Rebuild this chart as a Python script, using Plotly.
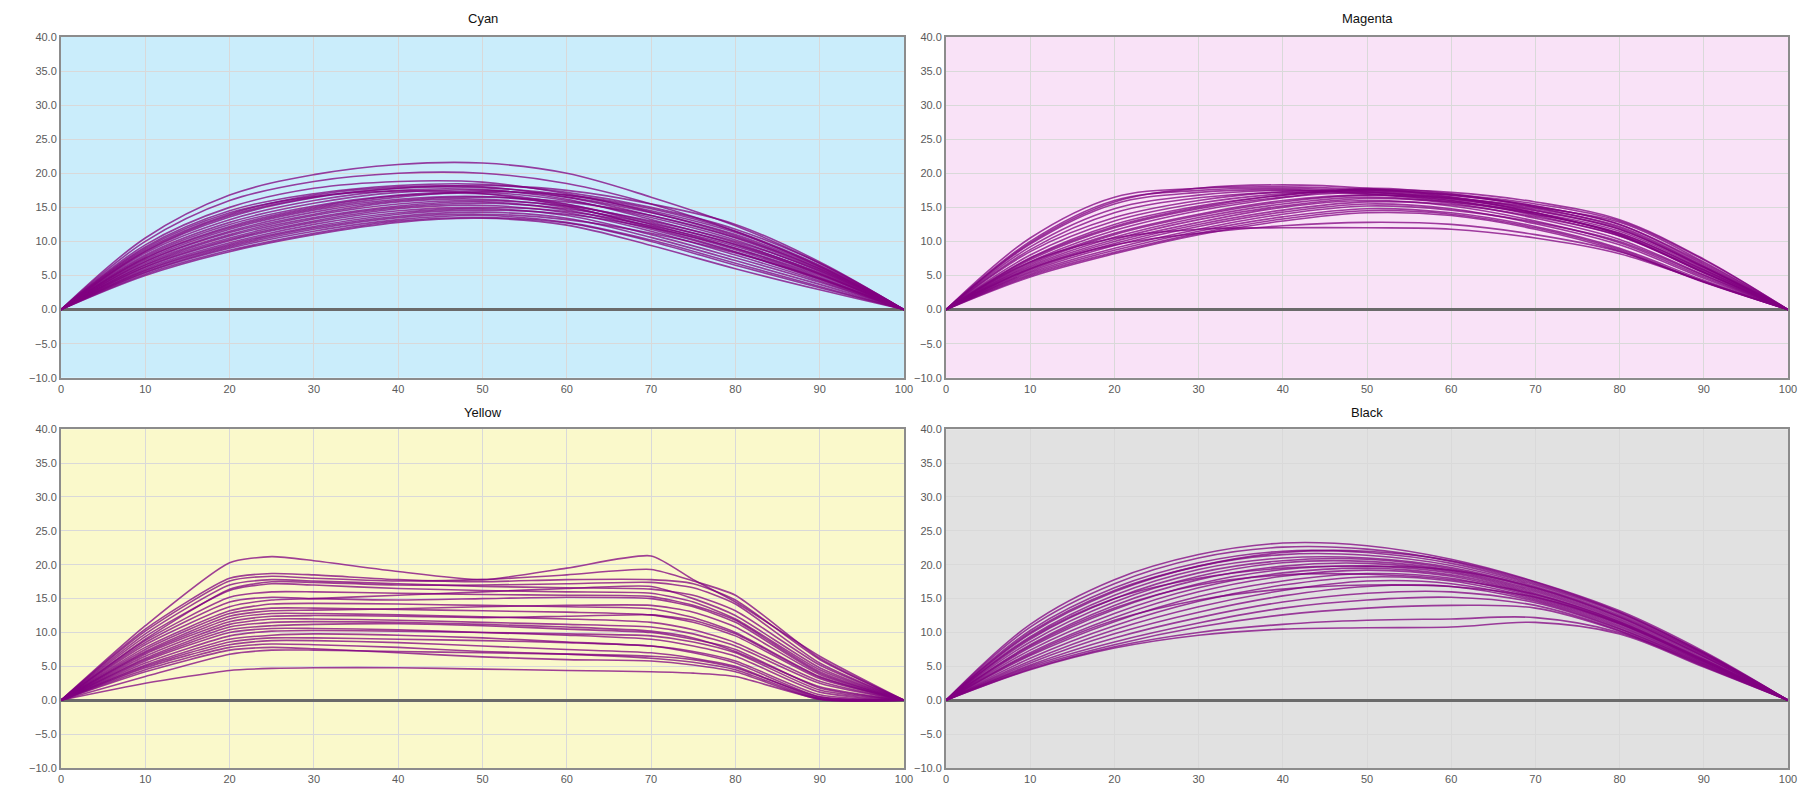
import plotly.graph_objects as go

# ---------------- data ----------------
X = [0, 10, 20, 30, 40, 50, 60, 70, 80, 90, 100]
X_YELLOW = [0, 10, 20, 25, 30, 40, 50, 60, 70, 75, 80, 90, 100]

CYAN = [
    [0, 10.5, 16.8, 19.8, 21.3, 21.5, 20.0, 16.5, 12.3, 6.8, 0],
    [0, 10.0, 16.0, 18.8, 20.0, 20.0, 18.5, 15.5, 11.5, 6.3, 0],
    [0, 9.5, 15.0, 17.8, 18.8, 18.7, 17.0, 14.3, 10.8, 6.0, 0],
    [0, 9.2, 14.5, 17.0, 18.2, 18.4, 17.2, 15.0, 11.8, 6.8, 0],
    [0, 8.8, 14.0, 16.8, 18.0, 18.0, 16.5, 13.8, 10.5, 5.8, 0],
    [0, 8.5, 13.6, 16.4, 17.8, 18.2, 17.5, 15.5, 12.5, 7.0, 0],
    [0, 8.3, 13.2, 16.0, 17.5, 17.6, 16.2, 13.2, 9.8, 5.3, 0],
    [0, 8.0, 12.8, 15.6, 17.2, 17.5, 16.5, 14.2, 11.0, 6.2, 0],
    [0, 7.8, 12.5, 15.2, 16.8, 17.2, 16.0, 13.5, 10.2, 5.6, 0],
    [0, 7.6, 12.2, 15.0, 16.7, 17.0, 15.5, 12.5, 9.0, 4.8, 0],
    [0, 7.5, 12.0, 14.8, 16.5, 17.3, 16.8, 14.8, 11.5, 6.5, 0],
    [0, 7.3, 11.8, 14.6, 16.2, 16.6, 15.4, 12.8, 9.5, 5.2, 0],
    [0, 7.1, 11.5, 14.3, 16.0, 16.5, 15.8, 13.8, 10.6, 6.0, 0],
    [0, 7.0, 11.3, 14.0, 15.8, 16.2, 15.0, 12.2, 8.8, 4.6, 0],
    [0, 6.8, 11.0, 13.8, 15.5, 16.0, 15.2, 13.0, 10.0, 5.7, 0],
    [0, 6.6, 10.8, 13.5, 15.2, 15.8, 14.6, 11.8, 8.4, 4.4, 0],
    [0, 6.5, 10.5, 13.3, 15.0, 15.6, 14.8, 12.6, 9.6, 5.4, 0],
    [0, 6.3, 10.3, 13.0, 14.8, 15.3, 14.2, 11.5, 8.0, 4.2, 0],
    [0, 6.2, 10.1, 12.8, 14.5, 15.0, 14.4, 12.3, 9.3, 5.2, 0],
    [0, 6.0, 9.8, 12.5, 14.2, 14.8, 13.8, 11.0, 7.6, 4.0, 0],
    [0, 5.8, 9.6, 12.2, 14.0, 14.6, 14.0, 12.0, 9.0, 5.0, 0],
    [0, 5.7, 9.4, 12.0, 13.7, 14.3, 13.4, 10.6, 7.2, 3.7, 0],
    [0, 5.5, 9.2, 11.8, 13.5, 14.0, 13.2, 11.2, 8.3, 4.6, 0],
    [0, 5.4, 9.0, 11.5, 13.2, 13.8, 12.8, 10.2, 6.8, 3.4, 0],
    [0, 5.2, 8.7, 11.2, 13.0, 13.5, 12.7, 10.0, 6.5, 3.2, 0],
    [0, 5.0, 8.5, 11.0, 12.8, 13.4, 12.4, 9.4, 6.0, 2.9, 0],
    [0, 9.0, 14.2, 16.6, 17.4, 17.0, 15.2, 12.0, 8.5, 4.5, 0],
    [0, 8.6, 13.8, 16.5, 17.8, 17.9, 16.8, 14.5, 11.3, 6.4, 0],
]

MAGENTA = [
    [0, 10.5, 16.5, 17.8, 18.0, 17.6, 16.8, 15.2, 12.5, 6.6, 0],
    [0, 10.0, 16.0, 17.5, 17.8, 17.3, 16.2, 14.5, 11.8, 6.2, 0],
    [0, 9.6, 15.5, 17.2, 17.6, 17.0, 15.8, 14.0, 11.2, 5.8, 0],
    [0, 9.2, 14.8, 16.8, 17.5, 17.2, 16.4, 15.0, 12.8, 7.0, 0],
    [0, 8.5, 13.5, 16.0, 17.3, 17.5, 16.8, 15.2, 12.5, 6.8, 0],
    [0, 8.0, 13.0, 15.6, 17.0, 17.4, 16.5, 14.6, 11.8, 6.2, 0],
    [0, 7.6, 12.5, 15.2, 16.8, 17.6, 16.9, 15.5, 13.0, 7.3, 0],
    [0, 7.3, 12.0, 14.8, 16.5, 17.2, 16.3, 14.2, 11.0, 5.6, 0],
    [0, 7.0, 11.6, 14.5, 16.4, 17.8, 17.0, 15.0, 12.0, 6.3, 0],
    [0, 6.8, 11.2, 14.0, 16.0, 16.8, 16.0, 13.8, 10.8, 5.4, 0],
    [0, 6.6, 11.0, 13.8, 15.8, 16.8, 16.3, 14.8, 12.2, 6.4, 0],
    [0, 6.4, 10.6, 13.5, 15.5, 16.5, 15.6, 13.4, 10.3, 5.1, 0],
    [0, 6.2, 10.3, 13.2, 15.2, 16.3, 15.8, 14.2, 11.5, 6.0, 0],
    [0, 6.0, 10.0, 12.8, 15.0, 16.0, 15.2, 13.0, 9.8, 4.8, 0],
    [0, 5.8, 9.7, 12.5, 14.6, 15.8, 15.4, 13.6, 10.8, 5.5, 0],
    [0, 5.6, 9.4, 12.2, 14.3, 15.5, 14.8, 12.6, 9.5, 4.6, 0],
    [0, 5.4, 9.0, 11.8, 14.0, 15.2, 14.6, 12.8, 10.0, 5.0, 0],
    [0, 5.2, 8.7, 11.5, 13.6, 14.8, 14.2, 12.2, 9.0, 4.3, 0],
    [0, 5.0, 8.4, 11.2, 13.3, 14.5, 14.0, 12.0, 8.8, 4.1, 0],
    [0, 4.8, 8.2, 11.0, 13.0, 14.2, 13.8, 11.8, 8.6, 4.0, 0],
    [0, 7.0, 10.5, 11.8, 12.0, 12.0, 11.8, 10.5, 8.2, 4.1, 0],
    [0, 6.0, 9.5, 11.2, 12.3, 12.8, 12.5, 11.0, 8.5, 4.1, 0],
    [0, 9.8, 15.8, 17.8, 18.3, 17.8, 16.5, 14.2, 11.0, 5.4, 0],
    [0, 8.8, 14.2, 16.4, 17.2, 17.0, 16.0, 14.0, 11.2, 5.8, 0],
    [0, 7.5, 12.2, 15.0, 16.8, 17.6, 17.2, 15.8, 13.2, 7.4, 0],
]

YELLOW = [
    [0, 11.0, 20.3, 21.2, 20.6, 19.0, 17.8, 19.5, 21.3, 17.8, 14.5, 6.5, 0],
    [0, 10.5, 18.0, 18.7, 18.5, 17.8, 17.5, 17.8, 17.8, 17.2, 14.8, 6.0, 0],
    [0, 10.2, 17.6, 18.3, 18.0, 17.6, 17.8, 18.5, 19.3, 17.6, 15.5, 6.2, 0],
    [0, 9.8, 17.0, 17.8, 17.6, 17.2, 16.8, 16.6, 16.4, 15.5, 13.2, 5.2, 0],
    [0, 9.4, 16.2, 17.2, 17.0, 16.5, 16.2, 16.0, 15.8, 14.5, 12.0, 4.5, 0],
    [0, 8.5, 14.5, 15.2, 15.0, 14.8, 15.0, 15.2, 15.0, 13.8, 11.5, 4.0, 0],
    [0, 8.2, 13.8, 14.8, 15.0, 15.5, 16.0, 16.5, 16.8, 15.0, 12.5, 4.8, 0],
    [0, 7.8, 13.2, 14.2, 14.3, 14.2, 14.0, 13.8, 13.5, 12.2, 10.0, 3.5, 0],
    [0, 7.5, 12.8, 13.6, 13.6, 13.4, 13.2, 13.0, 12.6, 11.5, 9.5, 3.2, 0],
    [0, 7.2, 12.4, 13.2, 13.3, 13.5, 13.8, 14.0, 14.0, 13.0, 10.8, 3.8, 0],
    [0, 7.0, 12.0, 12.8, 12.8, 12.6, 12.3, 12.0, 11.5, 10.4, 8.5, 2.8, 0],
    [0, 6.8, 11.6, 12.4, 12.5, 12.4, 12.2, 12.4, 12.6, 11.8, 9.8, 3.4, 0],
    [0, 6.5, 11.2, 12.0, 12.0, 11.8, 11.5, 11.2, 10.8, 9.8, 8.0, 2.5, 0],
    [0, 6.2, 10.8, 11.5, 11.6, 11.5, 11.2, 10.8, 10.2, 9.2, 7.2, 2.0, 0],
    [0, 6.0, 10.4, 11.0, 11.2, 11.3, 11.0, 10.5, 10.0, 9.0, 7.5, 1.8, 0],
    [0, 5.8, 10.0, 10.6, 10.6, 10.4, 10.0, 9.6, 9.0, 8.0, 6.5, 1.2, 0],
    [0, 5.5, 9.5, 10.2, 10.3, 10.2, 10.0, 9.8, 9.5, 8.6, 7.0, 1.5, 0],
    [0, 5.2, 9.0, 9.6, 9.8, 9.6, 9.2, 8.6, 8.0, 7.2, 5.8, 0.8, 0],
    [0, 5.0, 8.6, 9.2, 9.2, 9.0, 8.8, 8.5, 8.0, 7.0, 5.5, 0.5, 0],
    [0, 4.8, 8.2, 8.8, 8.8, 8.5, 8.0, 7.5, 7.0, 6.2, 5.0, 0.3, 0],
    [0, 4.5, 7.8, 8.3, 8.2, 7.8, 7.2, 6.8, 6.2, 5.6, 4.5, 0.2, 0],
    [0, 4.2, 7.4, 7.8, 7.6, 7.0, 6.4, 6.0, 5.8, 5.2, 4.2, 0.1, 0],
    [0, 3.5, 6.8, 7.4, 7.4, 7.2, 7.0, 6.8, 6.5, 6.0, 4.8, 0.5, 0],
    [0, 2.5, 4.4, 4.7, 4.8, 4.8, 4.6, 4.4, 4.2, 4.0, 3.5, 0.2, 0],
    [0, 8.8, 15.2, 16.0, 16.0, 15.8, 15.6, 15.5, 15.3, 14.0, 11.8, 4.2, 0],
    [0, 9.0, 16.4, 17.5, 17.4, 17.0, 17.0, 17.2, 17.4, 16.6, 14.2, 5.5, 0],
]

BLACK = [
    [0, 11.2, 17.8, 21.5, 23.2, 22.8, 20.8, 17.5, 13.2, 7.2, 0],
    [0, 10.8, 17.2, 21.0, 22.6, 22.3, 20.5, 17.2, 13.0, 7.0, 0],
    [0, 10.3, 16.6, 20.3, 22.0, 21.8, 20.2, 17.0, 12.8, 6.9, 0],
    [0, 9.8, 16.0, 19.8, 21.5, 21.4, 19.9, 16.8, 12.6, 6.8, 0],
    [0, 9.4, 15.5, 19.3, 21.0, 21.0, 19.6, 16.6, 12.4, 6.7, 0],
    [0, 9.0, 15.0, 18.8, 20.6, 20.8, 19.4, 16.4, 12.2, 6.5, 0],
    [0, 8.6, 14.5, 18.3, 20.3, 20.5, 19.2, 16.2, 12.0, 6.4, 0],
    [0, 8.2, 14.0, 17.8, 19.8, 20.2, 19.0, 16.0, 11.8, 6.2, 0],
    [0, 7.8, 13.4, 17.2, 19.3, 19.8, 18.8, 15.8, 11.6, 6.0, 0],
    [0, 7.4, 12.8, 16.6, 18.8, 19.5, 18.5, 15.6, 11.4, 5.9, 0],
    [0, 7.0, 12.2, 16.0, 18.3, 19.2, 18.3, 15.4, 11.3, 5.8, 0],
    [0, 6.6, 11.6, 15.3, 17.6, 18.7, 18.0, 15.2, 11.2, 5.7, 0],
    [0, 6.2, 11.0, 14.6, 17.0, 18.2, 17.6, 15.0, 11.0, 5.6, 0],
    [0, 5.8, 10.4, 13.8, 16.2, 17.6, 17.2, 14.8, 10.8, 5.5, 0],
    [0, 5.5, 9.8, 13.0, 15.4, 16.8, 16.8, 14.6, 10.6, 5.4, 0],
    [0, 5.2, 9.2, 12.2, 14.5, 15.8, 16.0, 14.4, 10.5, 5.3, 0],
    [0, 5.0, 8.6, 11.4, 13.6, 14.8, 15.2, 14.0, 10.3, 5.2, 0],
    [0, 4.8, 8.2, 10.8, 12.6, 13.6, 14.0, 13.6, 10.2, 5.1, 0],
    [0, 4.6, 7.9, 10.0, 11.2, 11.8, 12.0, 12.2, 10.0, 5.0, 0],
    [0, 4.5, 7.7, 9.6, 10.5, 10.7, 10.8, 11.5, 9.8, 4.9, 0],
    [0, 10.0, 16.2, 19.8, 21.8, 22.0, 20.6, 17.4, 13.0, 7.0, 0],
    [0, 8.0, 13.6, 17.0, 18.5, 18.6, 17.8, 15.6, 11.6, 6.0, 0],
    [0, 6.8, 11.8, 14.8, 16.4, 17.0, 16.8, 15.2, 11.4, 5.8, 0],
    [0, 9.2, 15.0, 18.0, 19.5, 19.8, 19.2, 16.6, 12.3, 6.5, 0],
]

TITLES = ["Cyan", "Magenta", "Yellow", "Black"]
X_TICKS = [0, 10, 20, 30, 40, 50, 60, 70, 80, 90, 100]
Y_TICKS = [-10, -5, 0, 5, 10, 15, 20, 25, 30, 35, 40]

# ---------------- style ----------------
W, H = 1806, 789
ML, MR, MT, MB = 53, 26, 29, 22
PW, PH = W - ML - MR, H - MT - MB

def xd(a, b):
    return [(a - ML) / PW, (b - ML) / PW]

def yd(top, bottom):
    return [(H - MB - bottom) / PH, (H - MB - top) / PH]

def ypix(pix):
    return (H - MB - pix) / PH

panels = [
    dict(title=TITLES[0], x=X, data=CYAN, bg="#CAEDFB", xdom=xd(53, 896), ydom=yd(29, 373), ty=10, smooth=1.0),
    dict(title=TITLES[1], x=X, data=MAGENTA, bg="#F9E2F7", xdom=xd(938, 1780), ydom=yd(29, 373), ty=10, smooth=1.0),
    dict(title=TITLES[2], x=X_YELLOW, data=YELLOW, bg="#FAF9CB", xdom=xd(53, 896), ydom=yd(425, 767), ty=408, smooth=0.6),
    dict(title=TITLES[3], x=X, data=BLACK, bg="#E1E1E1", xdom=xd(938, 1780), ydom=yd(425, 767), ty=408, smooth=1.0),
]

LINE_COLOR = "rgba(128,0,128,0.75)"
TICK_FONT = dict(family="Liberation Sans, Arial, sans-serif", size=11, color="#5a5a5a")

fig = go.Figure()
shapes = []
annotations = []
layout_axes = {}

for i, p in enumerate(panels, start=1):
    xa = "x" if i == 1 else f"x{i}"
    ya = "y" if i == 1 else f"y{i}"
    for row in p["data"]:
        fig.add_trace(go.Scatter(
            x=p["x"], y=row, mode="lines", xaxis=xa, yaxis=ya,
            line=dict(color=LINE_COLOR, width=1.6, shape="spline", smoothing=p["smooth"]),
            showlegend=False, hoverinfo="skip",
        ))
    xkey = "xaxis" if i == 1 else f"xaxis{i}"
    ykey = "yaxis" if i == 1 else f"yaxis{i}"
    layout_axes[xkey] = dict(
        domain=p["xdom"], anchor=ya, range=[0, 100], tickvals=X_TICKS,
        showgrid=True, gridcolor="#d9d9d9", gridwidth=1,
        showline=True, linecolor="#8c8c8c", linewidth=2, mirror=True,
        zeroline=False, ticks="", tickfont=TICK_FONT, fixedrange=True,
    )
    layout_axes[ykey] = dict(
        domain=p["ydom"], anchor=xa, range=[-10, 40], tickvals=Y_TICKS, tickformat=".1f",
        showgrid=True, gridcolor="#d9d9d9", gridwidth=1,
        showline=True, linecolor="#8c8c8c", linewidth=2, mirror=True,
        zeroline=True, zerolinecolor="#6a6a6a", zerolinewidth=3,
        ticks="", tickfont=TICK_FONT, fixedrange=True,
    )
    shapes.append(dict(
        type="rect", xref=f"{xa} domain", yref=f"{ya} domain",
        x0=0, x1=1, y0=0, y1=1, fillcolor=p["bg"], line=dict(width=0), layer="below",
    ))
    annotations.append(dict(
        text=p["title"], xref="paper", yref="paper",
        x=(p["xdom"][0] + p["xdom"][1]) / 2, y=ypix(p["ty"]),
        xanchor="center", yanchor="middle", showarrow=False,
        font=dict(family="Liberation Sans, Arial, sans-serif", size=13, color="#111111"),
    ))

fig.update_layout(
    width=W, height=H, autosize=False,
    margin=dict(l=ML, r=MR, t=MT, b=MB),
    paper_bgcolor="white", plot_bgcolor="white",
    shapes=shapes, annotations=annotations,
    **layout_axes,
)

fig.write_html("out.html")
